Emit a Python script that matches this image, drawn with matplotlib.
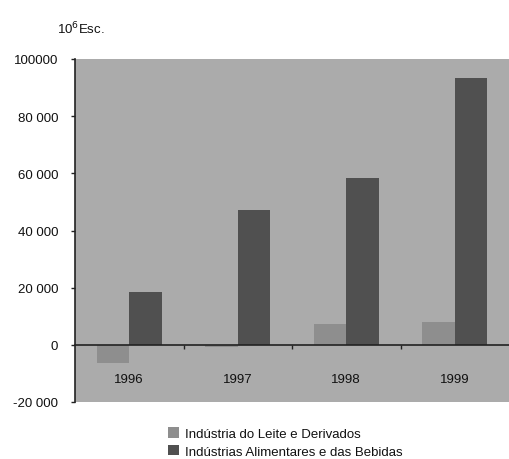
import matplotlib
matplotlib.use("Agg")
import matplotlib.pyplot as plt
import numpy as np

years = ["1996", "1997", "1998", "1999"]
leite = [-6300, -700, 7300, 7900]
alimentares = [18500, 47000, 58200, 93200]
series_names = ["Indústria do Leite e Derivados", "Indústrias Alimentares e das Bebidas"]
yticks = [-20000, 0, 20000, 40000, 60000, 80000, 100000]
ytick_labels = ["-20 000", "0", "20 000", "40 000", "60 000", "80 000", "100000"]

plt.rcParams['font.family'] = ['Liberation Sans Narrow', 'DejaVu Sans Condensed', 'Liberation Sans', 'DejaVu Sans']

fig = plt.figure(figsize=(5.09, 4.60), dpi=100)
ax = fig.add_axes([75/509, 1-403/460, 1-75/509, (403-60)/460])
ax.set_facecolor("#ababab")

x = np.arange(len(years))
w = 0.3
ax.bar(x - w/2, leite, w, color="#8e8e8e", label=series_names[0], zorder=2)
ax.bar(x + w/2, alimentares, w, color="#505050", label=series_names[1], zorder=2)

ax.set_xlim(-0.5, 3.5)
ax.set_ylim(-20000, 100000)
ax.set_yticks(yticks)
ax.set_yticklabels(ytick_labels, fontsize=9.5, color="#111111")
ax.tick_params(axis='y', length=3, width=1, color="#222222", pad=9)

for s in ["top", "right"]:
    ax.spines[s].set_visible(False)
ax.spines['left'].set_color("#222222")
ax.spines['left'].set_linewidth(1.2)
ax.spines['bottom'].set_position(('data', 0))
ax.spines['bottom'].set_color("#222222")
ax.spines['bottom'].set_linewidth(1.2)
ax.spines['bottom'].set_zorder(3)
ax.set_xticks([0.5, 1.5, 2.5])
ax.set_xticklabels([])
ax.tick_params(axis='x', length=3, width=1, color="#222222", direction='out')

for i, y in enumerate(years):
    ax.text(x[i], -12000, y, ha='center', va='center', fontsize=9.5, color="#111111")

fig.text(57/509, 1-29/460, r"10$^{6}$Esc.", fontsize=9.5, va='center', ha='left', color="#111111")

leg = fig.legend(loc='upper left', bbox_to_anchor=(163/509, 1-423/460), frameon=False,
                 fontsize=9.5, handlelength=0.85, handleheight=0.85, handletextpad=0.45,
                 labelspacing=0.35, borderaxespad=0)
for t in leg.get_texts():
    t.set_color("#111111")

fig.savefig("out.png", dpi=100)
